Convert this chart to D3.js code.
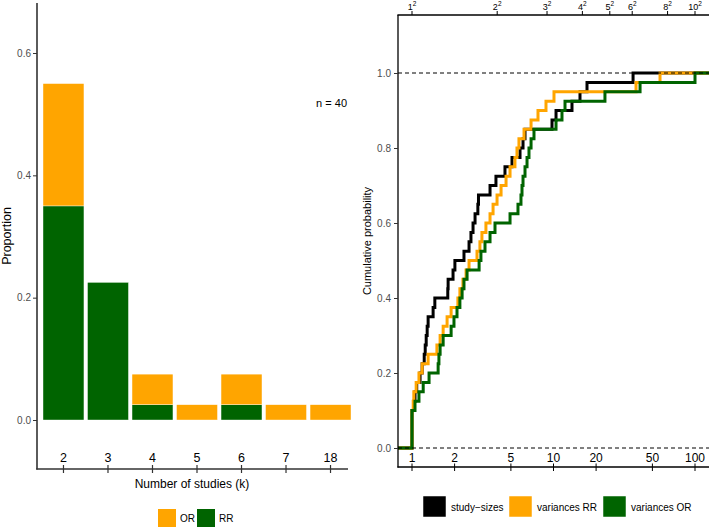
<!DOCTYPE html>
<html><head><meta charset="utf-8">
<script src="https://cdn.jsdelivr.net/npm/d3@7"></script>
<style>
body{margin:0;background:#fff}
svg{display:block}
text{font-family:"Liberation Sans",Arial,Helvetica,sans-serif}
</style>
</head><body>
<svg id="c" width="709" height="527"></svg>
<script>
// ---------- data ----------
const kCats = ["2","3","4","5","6","7","18"];
const rrProp = [0.35, 0.225, 0.025, 0, 0.025, 0, 0];
const orProp = [0.2, 0, 0.05, 0.025, 0.05, 0.025, 0.025];
const yTicksLeft = [0, 0.2, 0.4, 0.6];
const barLegend = ["OR", "RR"];

const studySizes = [1,1,1,1,1.03,1.05,1.08,1.14,1.18,1.22,1.24,1.26,1.28,1.30,1.41,1.45,1.79,1.80,1.95,2.01,
  2.33,2.53,2.61,2.70,2.79,2.92,2.95,3.56,3.92,4.54,5.09,5.80,6.09,6.29,9.76,10.42,13.51,15.39,17.25,36.5];
const variancesRR = [1,1,1,1,1.02,1.03,1.07,1.12,1.18,1.30,1.50,1.58,1.66,1.77,1.89,2.11,2.18,2.29,2.41,2.53,
  2.88,3.02,3.12,3.33,3.56,3.74,3.99,4.26,4.62,4.93,5.34,5.52,5.70,6.19,6.94,7.77,8.85,10.08,38.3,56.6];
const variancesOR = [1,1,1,1,1.05,1.12,1.20,1.32,1.53,1.55,1.58,1.66,1.89,1.98,2.08,2.18,2.26,2.33,2.45,2.98,
  3.07,3.28,3.56,3.86,4.93,5.61,5.89,5.99,6.09,6.29,6.50,6.71,6.94,7.28,10.42,11.48,12.06,23.1,40.9,100];
const ecdfNames = ["study\u2212sizes", "variances RR", "variances OR"];
const xTicksBottom = [1, 2, 5, 10, 20, 50, 100];
const xTicksTopRoot = [1, 2, 3, 4, 5, 6, 8, 10];
const yTicksRight = [0, 0.2, 0.4, 0.6, 0.8, 1.0];

const ORANGE = "#FFA500", GREEN = "#006400", GREY = "#4d4d4d";
const svg = d3.select("#c");

// ---------- left panel ----------
const xL = d3.scaleBand().domain(kCats).range([37, 357]).paddingInner(0.08).paddingOuter(0.135);
const yL = d3.scaleLinear().domain([0, 0.6]).range([420, 53]);

const rows = kCats.map((k, i) => ({k, RR: rrProp[i], OR: orProp[i]}));
const stack = d3.stack().keys(["RR", "OR"])(rows);
const fillOf = {RR: GREEN, OR: ORANGE};
const gL = svg.append("g");
stack.forEach(layer => {
  gL.append("g").selectAll("rect").data(layer.filter(d => d[1] - d[0] > 0)).join("rect")
    .attr("x", d => xL(d.data.k))
    .attr("width", xL.bandwidth())
    .attr("y", d => yL(d[1]))
    .attr("height", d => yL(d[0]) - yL(d[1]))
    .attr("fill", fillOf[layer.key])
    .attr("stroke", "#ffffff").attr("stroke-width", 0.4);
});

// left y axis
const axL = svg.append("g").attr("transform", "translate(37,0)")
  .call(d3.axisLeft(yL).tickValues(yTicksLeft).tickFormat(d3.format(".1f")).tickSize(4).tickPadding(2));
axL.select(".domain").remove();
axL.selectAll("line").attr("stroke", "#333").attr("stroke-width", 1);
axL.selectAll("text").attr("font-size", 10).attr("fill", GREY).attr("font-family", "Liberation Sans, Arial, sans-serif");
svg.append("line").attr("x1", 37).attr("x2", 37).attr("y1", 3).attr("y2", 469.5).attr("stroke", "#333").attr("stroke-width", 1.6);

// left x axis
svg.append("line").attr("x1", 36.2).attr("x2", 348).attr("y1", 469).attr("y2", 469).attr("stroke", "#333").attr("stroke-width", 1.6);
const gxL = svg.append("g");
gxL.selectAll("line").data(kCats).join("line")
  .attr("x1", d => xL(d) + xL.bandwidth() / 2).attr("x2", d => xL(d) + xL.bandwidth() / 2)
  .attr("y1", 465).attr("y2", 473).attr("stroke", "#333").attr("stroke-width", 1.2);
gxL.selectAll("text").data(kCats).join("text")
  .attr("x", d => xL(d) + xL.bandwidth() / 2).attr("y", 462)
  .attr("text-anchor", "middle").attr("font-size", 12.5).attr("fill", "#000").text(d => d);

svg.append("text").attr("x", 192).attr("y", 487.5).attr("text-anchor", "middle")
  .attr("font-size", 12).text("Number of studies (k)");
svg.append("text").attr("transform", "translate(11,236) rotate(-90)").attr("text-anchor", "middle")
  .attr("font-size", 12.5).text("Proportion");
svg.append("text").attr("x", 347).attr("y", 107).attr("text-anchor", "end")
  .attr("font-size", 11).text("n = 40");

// left legend
const legL = svg.append("g");
barLegend.forEach((name, i) => {
  const x0 = 158 + i * 39;
  legL.append("rect").attr("x", x0).attr("y", 509).attr("width", 18).attr("height", 18)
    .attr("fill", name === "OR" ? ORANGE : GREEN);
  legL.append("text").attr("x", x0 + 22).attr("y", 522).attr("font-size", 10).text(name);
});

// ---------- right panel ----------
const xR = d3.scaleLog().domain([1, 100]).range([412, 695]);
const yR = d3.scaleLinear().domain([0, 1]).range([448, 73]);
const PL = 398, PR = 709, PT = 15, PB = 467;

svg.append("defs").append("clipPath").attr("id", "clipR")
  .append("rect").attr("x", PL).attr("y", PT).attr("width", PR - PL).attr("height", PB - PT);

const series = [
  {name: ecdfNames[0], vals: studySizes, color: "#000000"},
  {name: ecdfNames[1], vals: variancesRR, color: ORANGE},
  {name: ecdfNames[2], vals: variancesOR, color: GREEN}
];
const xMin = xR.invert(PL), xMax = xR.invert(PR + 5);
const line = d3.line().x(d => xR(d[0])).y(d => yR(d[1])).curve(d3.curveStepAfter);
const gC = svg.append("g").attr("clip-path", "url(#clipR)");
series.forEach(s => {
  const sorted = s.vals.slice().sort((a, b) => a - b);
  const n = sorted.length;
  const pts = [[xMin, 0]].concat(sorted.map((v, i) => [v, (i + 1) / n])).concat([[xMax, 1]]);
  gC.append("path").attr("d", line(pts)).attr("fill", "none")
    .attr("stroke", s.color).attr("stroke-width", 3).attr("stroke-linejoin", "miter").attr("stroke-linecap", "butt");
});
// dashed reference lines
[0, 1].forEach(v => {
  svg.append("line").attr("x1", PL).attr("x2", PR).attr("y1", yR(v)).attr("y2", yR(v))
    .attr("stroke", "#000").attr("stroke-width", 1).attr("stroke-dasharray", "4,3");
});

// axes lines
svg.append("line").attr("x1", PL).attr("x2", PL).attr("y1", PT).attr("y2", PB + 0.5).attr("stroke", "#000").attr("stroke-width", 1.3);
svg.append("line").attr("x1", PL - 0.6).attr("x2", PR).attr("y1", PT).attr("y2", PT).attr("stroke", "#000").attr("stroke-width", 1.3);
svg.append("line").attr("x1", PL - 0.6).attr("x2", PR).attr("y1", PB).attr("y2", PB).attr("stroke", "#000").attr("stroke-width", 1.3);

// right y axis
const axR = svg.append("g").attr("transform", `translate(${PL},0)`)
  .call(d3.axisLeft(yR).tickValues(yTicksRight).tickFormat(d3.format(".1f")).tickSize(4).tickPadding(3));
axR.select(".domain").remove();
axR.selectAll("line").attr("stroke", "#333");
axR.selectAll("text").attr("font-size", 10).attr("fill", GREY).attr("font-family", "Liberation Sans, Arial, sans-serif");

// bottom axis (labels above the line, ticks crossing)
const gB = svg.append("g");
gB.selectAll("line").data(xTicksBottom).join("line")
  .attr("x1", d => xR(d)).attr("x2", d => xR(d)).attr("y1", 463.5).attr("y2", 471)
  .attr("stroke", "#000").attr("stroke-width", 1);
gB.selectAll("text").data(xTicksBottom).join("text")
  .attr("x", d => xR(d)).attr("y", 462).attr("text-anchor", "middle").attr("font-size", 12).text(d => d);

// top axis: squares
const gT = svg.append("g");
gT.selectAll("line").data(xTicksTopRoot).join("line")
  .attr("x1", d => xR(d * d)).attr("x2", d => xR(d * d)).attr("y1", 11).attr("y2", PT)
  .attr("stroke", "#000").attr("stroke-width", 1);
const tt = gT.selectAll("text").data(xTicksTopRoot).join("text")
  .attr("x", d => xR(d * d)).attr("y", 10).attr("text-anchor", "middle").attr("font-size", 9);
tt.append("tspan").text(d => d);
tt.append("tspan").attr("font-size", 6.5).attr("dy", -4).text("2");

svg.append("text").attr("transform", "translate(371,241) rotate(-90)").attr("text-anchor", "middle")
  .attr("font-size", 11).text("Cumulative probability");

// right legend
const legR = svg.append("g");
const legX = [423, 509, 603];
series.forEach((s, i) => {
  legR.append("rect").attr("x", legX[i]).attr("y", 496).attr("width", 23).attr("height", 21)
    .attr("fill", s.color).attr("stroke", "#fff").attr("stroke-width", 0.5);
  legR.append("text").attr("x", legX[i] + 28).attr("y", 510.5).attr("font-size", 10).text(s.name);
});
</script>
</body></html>
